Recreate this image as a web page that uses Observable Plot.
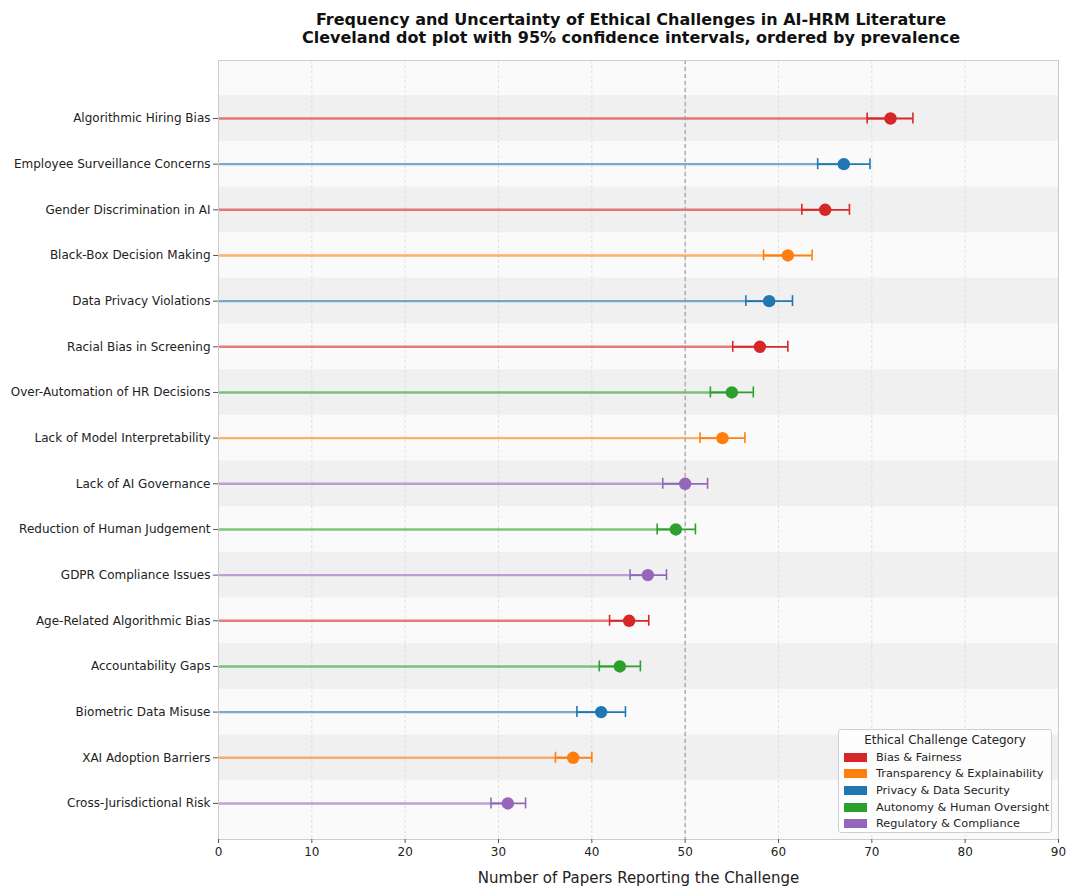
<!DOCTYPE html>
<html>
<head>
<meta charset="utf-8">
<script src="https://cdn.jsdelivr.net/npm/d3@7"></script>
<script src="https://cdn.jsdelivr.net/npm/@observablehq/plot@0.6"></script>
<style>
  body { margin: 0; background: #fff; font-family: "DejaVu Sans", sans-serif; }
  #wrap { position: relative; width: 1074px; height: 887px; }
  #title { position: absolute; left: 200px; width: 862px; top: 11px; text-align: center;
           font-weight: bold; font-size: 16px; line-height: 18px; color: #111; }
  #chart { position: absolute; left: 0; top: 48px; }
  #legend { position: absolute; left: 838px; top: 729px; width: 212px; height: 102px;
            border: 1px solid #cfcfcf; border-radius: 3px; background: rgba(255,255,255,0.85);
            box-sizing: content-box; color: #222; }
  #legend .lt { text-align: center; font-size: 11.9px; line-height: 13px; margin-top: 4px; margin-bottom: 2px; }
  #legend .it { display: flex; align-items: center; font-size: 11.3px; height: 16.6px; padding-left: 5px; white-space: nowrap; }
  #legend .sw { width: 23px; height: 9px; margin-right: 9px; flex: none; }
</style>
</head>
<body>
<div id="wrap">
  <div id="title">Frequency and Uncertainty of Ethical Challenges in AI-HRM Literature<br>Cleveland dot plot with 95% confidence intervals, ordered by prevalence</div>
  <div id="chart"></div>
  <div id="legend"></div>
</div>
<script>
// ---- data (top to bottom, ordered by prevalence) ----
const challenges = [
  "Algorithmic Hiring Bias",
  "Employee Surveillance Concerns",
  "Gender Discrimination in AI",
  "Black-Box Decision Making",
  "Data Privacy Violations",
  "Racial Bias in Screening",
  "Over-Automation of HR Decisions",
  "Lack of Model Interpretability",
  "Lack of AI Governance",
  "Reduction of Human Judgement",
  "GDPR Compliance Issues",
  "Age-Related Algorithmic Bias",
  "Accountability Gaps",
  "Biometric Data Misuse",
  "XAI Adoption Barriers",
  "Cross-Jurisdictional Risk"
];
const challengeCategory = [
  "Bias & Fairness",
  "Privacy & Data Security",
  "Bias & Fairness",
  "Transparency & Explainability",
  "Privacy & Data Security",
  "Bias & Fairness",
  "Autonomy & Human Oversight",
  "Transparency & Explainability",
  "Regulatory & Compliance",
  "Autonomy & Human Oversight",
  "Regulatory & Compliance",
  "Bias & Fairness",
  "Autonomy & Human Oversight",
  "Privacy & Data Security",
  "Transparency & Explainability",
  "Regulatory & Compliance"
];
const paperCounts = [72, 67, 65, 61, 59, 58, 55, 54, 50, 49, 46, 44, 43, 41, 38, 31];
const ciLow  = [69.5, 64.2, 62.5, 58.4, 56.5, 55.1, 52.7, 51.6, 47.6, 47.0, 44.1, 41.9, 40.8, 38.4, 36.1, 29.2];
const ciHigh = [74.4, 69.8, 67.6, 63.6, 61.5, 61.0, 57.3, 56.4, 52.4, 51.1, 48.0, 46.1, 45.2, 43.6, 40.0, 32.9];
const categoryNames = [
  "Bias & Fairness",
  "Transparency & Explainability",
  "Privacy & Data Security",
  "Autonomy & Human Oversight",
  "Regulatory & Compliance"
];
const categoryColors = ["#d62728", "#ff7f0e", "#1f77b4", "#2ca02c", "#9467bd"];
const xTicks = [0, 10, 20, 30, 40, 50, 60, 70, 80, 90];
const xDomain = [0, 90];
const referenceValue = 50;

// ---- build table ----
const n = challenges.length;
const rows = challenges.map((name, i) => ({
  name, cat: challengeCategory[i], count: paperCounts[i],
  lo: ciLow[i], hi: ciHigh[i], pos: n - 1 - i
}));
const bands = rows.filter(d => d.pos % 2 === 1);
const capHalf = 0.12;

const chart = Plot.plot({
  width: 1074,
  height: 839,
  marginLeft: 218,
  marginRight: 16,
  marginTop: 12,
  marginBottom: 48,
  style: { fontFamily: "DejaVu Sans, sans-serif", fontSize: "12px", color: "#222", background: "transparent" },
  x: { domain: xDomain },
  y: { domain: [-0.79, 16.27] },
  color: { domain: categoryNames, range: categoryColors },
  marks: [
    Plot.frame({ fill: "#fafafa", stroke: null }),
    Plot.rect(bands, { x1: () => xDomain[0], x2: () => xDomain[1], y1: d => d.pos - 0.5, y2: d => d.pos + 0.5, fill: "#f0f0f0" }),
    Plot.ruleX(xTicks.slice(1, -1), { stroke: "#dadada", strokeDasharray: "3,2", strokeWidth: 0.8 }),
    Plot.ruleY(rows, { y: "pos", x1: () => 0, x2: "count", stroke: "cat", strokeOpacity: 0.6, strokeWidth: 2.4 }),
    Plot.ruleX([referenceValue], { stroke: "#999", strokeDasharray: "4,3", strokeWidth: 1.1 }),
    Plot.ruleY(rows, { y: "pos", x1: "lo", x2: "hi", stroke: "cat", strokeWidth: 1.8 }),
    Plot.ruleX(rows, { x: "lo", y1: d => d.pos - capHalf, y2: d => d.pos + capHalf, stroke: "cat", strokeWidth: 1.6 }),
    Plot.ruleX(rows, { x: "hi", y1: d => d.pos - capHalf, y2: d => d.pos + capHalf, stroke: "cat", strokeWidth: 1.6 }),
    Plot.dot(rows, { x: "count", y: "pos", fill: "cat", r: 6.2 }),
    Plot.frame({ stroke: "#cccccc" }),
    Plot.axisY({ ticks: rows.map(d => d.pos), tickFormat: p => challenges[n - 1 - p], tickSize: 5, tickPadding: 3, label: null, fontSize: 12, stroke: "#555" }),
    Plot.axisX({ ticks: xTicks, tickSize: 4, tickPadding: 4, label: null, fontSize: 12, stroke: "#555" }),
    Plot.axisX({ ticks: [], tickSize: 0, label: "Number of Papers Reporting the Challenge", labelAnchor: "center", labelArrow: "none", labelOffset: 43, fontSize: 15 })
  ]
});
document.getElementById("chart").appendChild(chart);

// ---- legend ----
const legend = document.getElementById("legend");
const lt = document.createElement("div");
lt.className = "lt";
lt.textContent = "Ethical Challenge Category";
legend.appendChild(lt);
categoryNames.forEach((c, i) => {
  const it = document.createElement("div");
  it.className = "it";
  const sw = document.createElement("span");
  sw.className = "sw";
  sw.style.background = categoryColors[i];
  const tx = document.createElement("span");
  tx.textContent = c;
  it.appendChild(sw);
  it.appendChild(tx);
  legend.appendChild(it);
});
</script>
</body>
</html>
